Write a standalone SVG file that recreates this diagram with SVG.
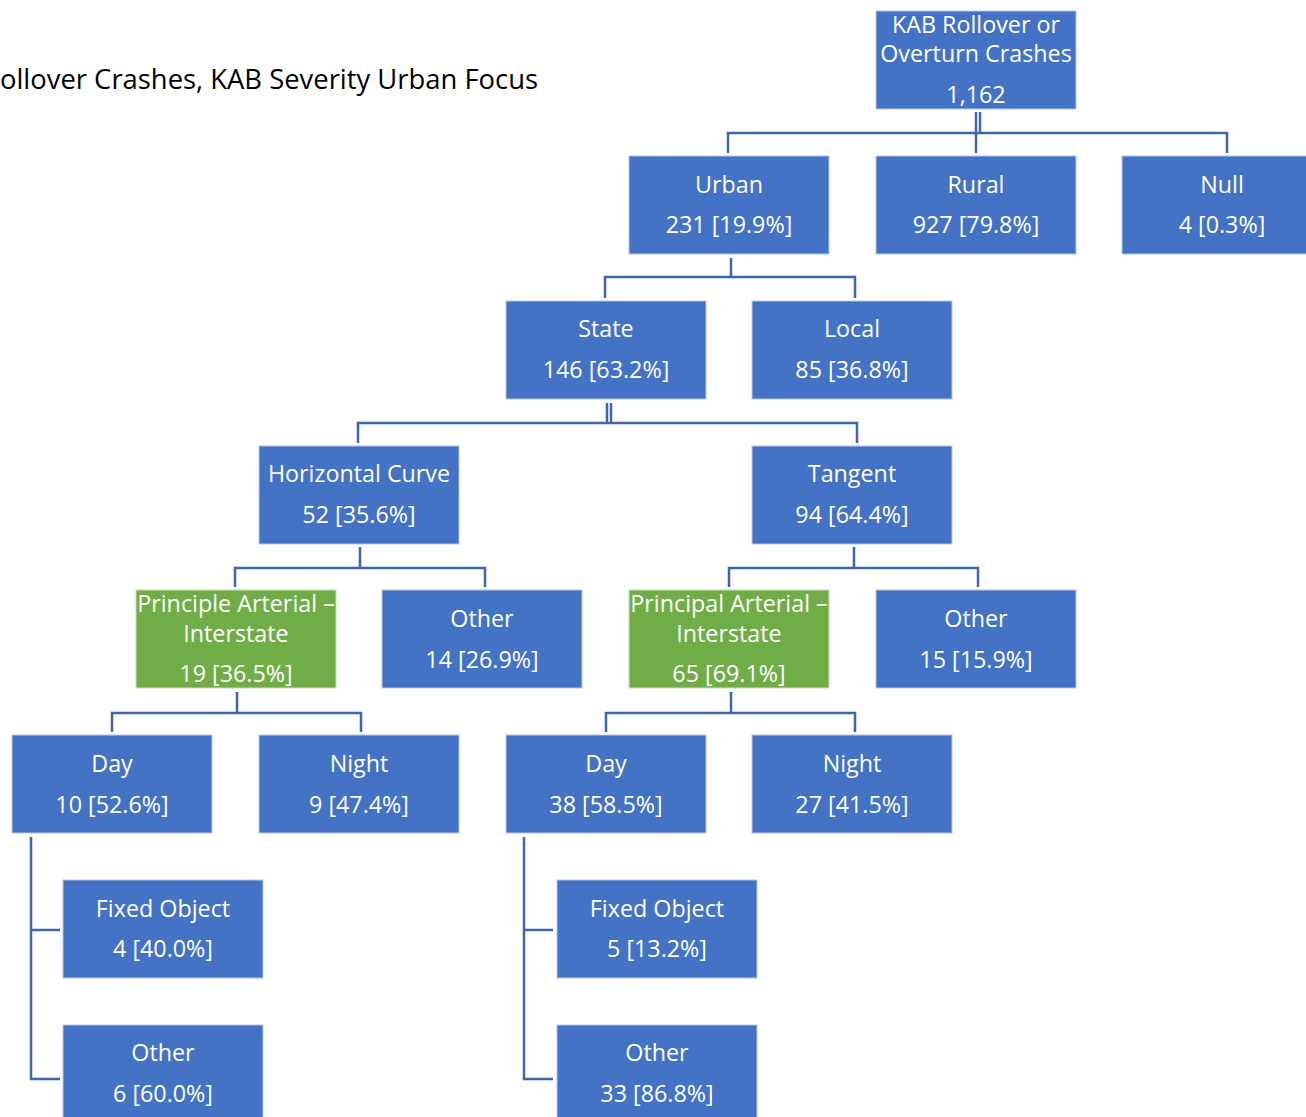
<svg xmlns="http://www.w3.org/2000/svg" width="1306" height="1117" viewBox="0 0 1306 1117">
<style>
.b{fill:#4472C4;stroke:#B4C7E7;stroke-width:1}
.g{fill:#70AD47;stroke:#C5E0B4;stroke-width:1}
.t{font-family:"Open Sans","Noto Sans",sans-serif;font-size:23.3px;fill:#fff;text-anchor:middle}
.c{fill:none;stroke:#3F65AE;stroke-width:2.5}
</style>
<rect width="1306" height="1117" fill="#fff"/>
<text x="538" y="89" font-family="'Open Sans','Noto Sans',sans-serif" font-size="27.4" text-anchor="end" fill="#000">ollover Crashes, KAB Severity Urban Focus</text>
<g id="connectors">
<path class="c" d="M976 112V133M980 112V133M728 153V133H1227V153M976 133V153"/>
<path class="c" d="M731 258V277M605 298V277H855V298"/>
<path class="c" d="M607 403V423M611 403V423M358 443V423H857V443"/>
<path class="c" d="M360 547V568M235 587V568H485V587"/>
<path class="c" d="M854 547V568M729 587V568H978V587"/>
<path class="c" d="M237 692V713M112 732V713H361V732"/>
<path class="c" d="M731 692V713M606 732V713H855V732"/>
<path class="c" d="M31 837V1079H60M31 930H60"/>
<path class="c" d="M524 837V1079H553M524 930H553"/>
</g>
<g id="root"><rect class="b" x="876" y="11" width="200" height="98"/><text class="t" x="976" y="33">KAB Rollover or</text><text class="t" x="976" y="62">Overturn Crashes</text><text class="t" x="976" y="103">1,162</text></g>
<g id="urban"><rect class="b" x="629" y="156" width="200" height="98"/><text class="t" x="729" y="193">Urban</text><text class="t" x="729" y="233">231 [19.9%]</text></g>
<g id="rural"><rect class="b" x="876" y="156" width="200" height="98"/><text class="t" x="976" y="193">Rural</text><text class="t" x="976" y="233">927 [79.8%]</text></g>
<g id="null"><rect class="b" x="1122" y="156" width="200" height="98"/><text class="t" x="1222" y="193">Null</text><text class="t" x="1222" y="233">4 [0.3%]</text></g>
<g id="state"><rect class="b" x="506" y="301" width="200" height="98"/><text class="t" x="606" y="337">State</text><text class="t" x="606" y="378">146 [63.2%]</text></g>
<g id="local"><rect class="b" x="752" y="301" width="200" height="98"/><text class="t" x="852" y="337">Local</text><text class="t" x="852" y="378">85 [36.8%]</text></g>
<g id="hcurve"><rect class="b" x="259" y="446" width="200" height="98"/><text class="t" x="359" y="482">Horizontal Curve</text><text class="t" x="359" y="523">52 [35.6%]</text></g>
<g id="tangent"><rect class="b" x="752" y="446" width="200" height="98"/><text class="t" x="852" y="482">Tangent</text><text class="t" x="852" y="523">94 [64.4%]</text></g>
<g id="pa1"><rect class="g" x="136" y="590" width="200" height="98"/><text class="t" x="236" y="612">Principle Arterial –</text><text class="t" x="236" y="642">Interstate</text><text class="t" x="236" y="682">19 [36.5%]</text></g>
<g id="other1"><rect class="b" x="382" y="590" width="200" height="98"/><text class="t" x="482" y="627">Other</text><text class="t" x="482" y="668">14 [26.9%]</text></g>
<g id="pa2"><rect class="g" x="629" y="590" width="200" height="98"/><text class="t" x="729" y="612">Principal Arterial –</text><text class="t" x="729" y="642">Interstate</text><text class="t" x="729" y="682">65 [69.1%]</text></g>
<g id="other2"><rect class="b" x="876" y="590" width="200" height="98"/><text class="t" x="976" y="627">Other</text><text class="t" x="976" y="668">15 [15.9%]</text></g>
<g id="day1"><rect class="b" x="12" y="735" width="200" height="98"/><text class="t" x="112" y="772">Day</text><text class="t" x="112" y="813">10 [52.6%]</text></g>
<g id="night1"><rect class="b" x="259" y="735" width="200" height="98"/><text class="t" x="359" y="772">Night</text><text class="t" x="359" y="813">9 [47.4%]</text></g>
<g id="day2"><rect class="b" x="506" y="735" width="200" height="98"/><text class="t" x="606" y="772">Day</text><text class="t" x="606" y="813">38 [58.5%]</text></g>
<g id="night2"><rect class="b" x="752" y="735" width="200" height="98"/><text class="t" x="852" y="772">Night</text><text class="t" x="852" y="813">27 [41.5%]</text></g>
<g id="fixed1"><rect class="b" x="63" y="880" width="200" height="98"/><text class="t" x="163" y="917">Fixed Object</text><text class="t" x="163" y="957">4 [40.0%]</text></g>
<g id="otherd1"><rect class="b" x="63" y="1025" width="200" height="98"/><text class="t" x="163" y="1061">Other</text><text class="t" x="163" y="1102">6 [60.0%]</text></g>
<g id="fixed2"><rect class="b" x="557" y="880" width="200" height="98"/><text class="t" x="657" y="917">Fixed Object</text><text class="t" x="657" y="957">5 [13.2%]</text></g>
<g id="otherd2"><rect class="b" x="557" y="1025" width="200" height="98"/><text class="t" x="657" y="1061">Other</text><text class="t" x="657" y="1102">33 [86.8%]</text></g>
</svg>
